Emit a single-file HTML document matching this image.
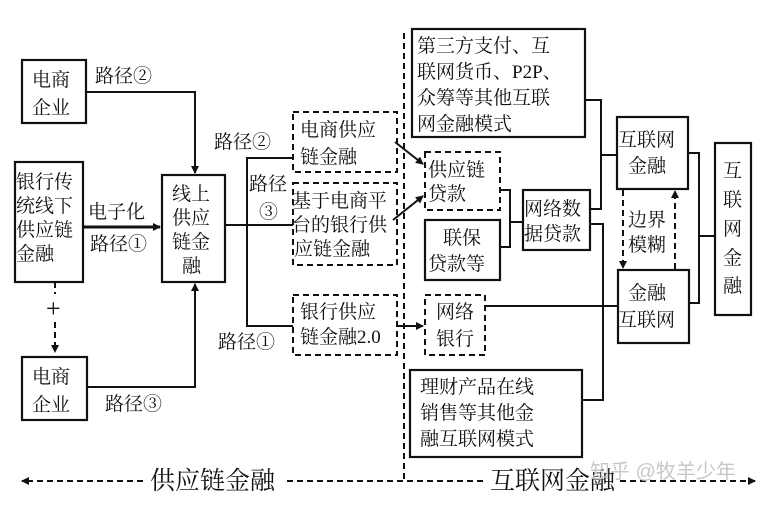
<!DOCTYPE html>
<html><head><meta charset="utf-8"><style>
html,body{margin:0;padding:0;background:#fff;}
svg{display:block;}
text{font-family:"Liberation Serif","Noto Serif CJK SC",serif;font-size:19px;fill:#111;}
</style></head><body>
<svg width="765" height="506" viewBox="0 0 765 506" xmlns="http://www.w3.org/2000/svg">
<defs>
<marker id="a" markerWidth="8" markerHeight="8" refX="7" refY="4" orient="auto" markerUnits="userSpaceOnUse"><path d="M0,0 L8,4 L0,8 z" fill="#111"/></marker>
</defs>
<g fill="none" stroke="#111" stroke-width="2.2">
<rect x="22" y="60" width="64" height="63"/>
<rect x="15" y="162" width="68" height="120"/>
<rect x="22" y="357" width="65" height="63"/>
<rect x="162" y="175" width="63" height="107"/>
<rect x="412" y="29" width="173" height="108"/>
<rect x="425" y="220" width="75" height="60"/>
<rect x="523" y="190" width="67" height="60"/>
<rect x="410" y="370" width="172" height="87"/>
<rect x="617" y="117" width="71" height="72"/>
<rect x="618" y="270" width="71" height="73"/>
<rect x="715" y="143" width="36" height="172"/>
</g>
<g fill="none" stroke="#111" stroke-width="2" stroke-dasharray="6,4">
<rect x="293" y="112" width="104" height="60"/>
<rect x="293" y="183" width="104" height="82"/>
<rect x="293" y="295" width="104" height="60"/>
<rect x="425" y="152" width="75" height="58"/>
<rect x="425" y="295" width="60" height="60"/>
<line x1="404" y1="33" x2="404" y2="481"/>
<line x1="55" y1="282" x2="55" y2="294"/>
<line x1="55" y1="322" x2="55" y2="352" marker-end="url(#a)"/>
<line x1="623" y1="190" x2="623" y2="268" marker-end="url(#a)"/>
<line x1="675" y1="269" x2="675" y2="191" marker-end="url(#a)"/>
<line x1="143" y1="481" x2="22" y2="481" marker-end="url(#a)"/>
<line x1="287" y1="481" x2="485" y2="481"/>
<line x1="620" y1="481" x2="755" y2="481" marker-end="url(#a)"/>
</g>
<g fill="none" stroke="#111" stroke-width="2">
<polyline points="86,92 195,92 195,173" marker-end="url(#a)"/>
<line x1="83" y1="227" x2="160" y2="227" stroke-width="3" marker-end="url(#a)"/>
<polyline points="87,387 195,387 195,284" marker-end="url(#a)"/>
<line x1="225" y1="225" x2="293" y2="225"/>
<polyline points="293,158 247,158 247,326 293,326"/>
<line x1="395" y1="142" x2="423" y2="164" marker-end="url(#a)"/>
<line x1="393" y1="220" x2="423" y2="196" marker-end="url(#a)"/>
<line x1="397" y1="326" x2="423" y2="326" marker-end="url(#a)"/>
<polyline points="500,190 510,190 510,247 500,247"/>
<line x1="510" y1="222" x2="523" y2="222"/>
<polyline points="585,100 601,100 601,209 590,209"/>
<line x1="601" y1="155" x2="617" y2="155"/>
<polyline points="590,224 603,224 603,400 582,400"/>
<line x1="485" y1="306" x2="618" y2="306"/>
<polyline points="688,153 699,153 699,303 689,303"/>
<line x1="699" y1="236" x2="715" y2="236"/>
</g>
<g>
<text x="32" y="86">电商</text><text x="32" y="114">企业</text>
<text x="95" y="82">路径②</text>
<text x="16" y="188">银行传</text><text x="16" y="212">统线下</text><text x="16" y="236">供应链</text><text x="16" y="260">金融</text>
<text x="88" y="218">电子化</text>
<text x="90" y="250">路径①</text>
<text x="172" y="200">线上</text><text x="172" y="224">供应</text><text x="172" y="248">链金</text><text x="182" y="272">融</text>
<text x="46" y="317" style="font-size:26px">+</text>
<text x="32" y="383">电商</text><text x="32" y="411">企业</text>
<text x="105" y="410">路径③</text>
<text x="214" y="148">路径②</text>
<text x="249" y="190">路径</text><text x="259" y="218">③</text>
<text x="218" y="348">路径①</text>
<text x="300" y="136">电商供应</text><text x="300" y="163">链金融</text>
<text x="292" y="207">基于电商平</text><text x="292" y="231">台的银行供</text><text x="294" y="255">应链金融</text>
<text x="300" y="318">银行供应</text><text x="300" y="343">链金融2.0</text>
<text x="417" y="52">第三方支付、互</text><text x="417" y="78">联网货币、P2P、</text><text x="417" y="104">众筹等其他互联</text><text x="417" y="130">网金融模式</text>
<text x="428" y="176">供应链</text><text x="428" y="200">贷款</text>
<text x="443" y="244">联保</text><text x="428" y="270">贷款等</text>
<text x="524" y="215">网络数</text><text x="524" y="240">据贷款</text>
<text x="436" y="318">网络</text><text x="436" y="345">银行</text>
<text x="420" y="393">理财产品在线</text><text x="420" y="419">销售等其他金</text><text x="420" y="445">融互联网模式</text>
<text x="618" y="146">互联网</text><text x="628" y="172">金融</text>
<text x="628" y="226">边界</text><text x="628" y="251">模糊</text>
<text x="628" y="299">金融</text><text x="618" y="326">互联网</text>
<text x="723" y="177">互</text><text x="723" y="206">联</text><text x="723" y="235">网</text><text x="723" y="264">金</text><text x="723" y="292">融</text>
<text x="150" y="489" style="font-size:25px">供应链金融</text>
<text x="490" y="489" style="font-size:25px">互联网金融</text>
<text x="590" y="478" style="fill:#c8c8c8;font-family:'Liberation Sans','Noto Sans CJK SC',sans-serif;font-size:20px">知乎 @牧羊少年</text>
</g>
</svg>
</body></html>
